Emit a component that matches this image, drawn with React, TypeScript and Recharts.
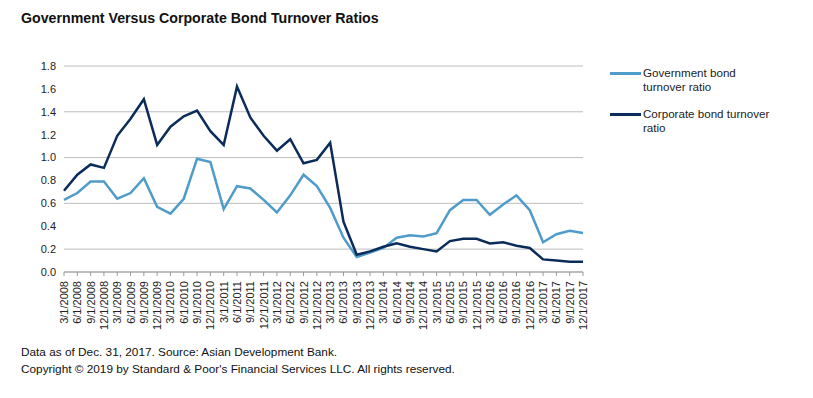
import React from 'react';
import { LineChart, Line, XAxis, YAxis, CartesianGrid } from 'recharts';

const dates = [
  '3/1/2008', '6/1/2008', '9/1/2008', '12/1/2008',
  '3/1/2009', '6/1/2009', '9/1/2009', '12/1/2009',
  '3/1/2010', '6/1/2010', '9/1/2010', '12/1/2010',
  '3/1/2011', '6/1/2011', '9/1/2011', '12/1/2011',
  '3/1/2012', '6/1/2012', '9/1/2012', '12/1/2012',
  '3/1/2013', '6/1/2013', '9/1/2013', '12/1/2013',
  '3/1/2014', '6/1/2014', '9/1/2014', '12/1/2014',
  '3/1/2015', '6/1/2015', '9/1/2015', '12/1/2015',
  '3/1/2016', '6/1/2016', '9/1/2016', '12/1/2016',
  '3/1/2017', '6/1/2017', '9/1/2017', '12/1/2017',
];

const govRatio = [
  0.63, 0.69, 0.79, 0.79, 0.64, 0.69, 0.82, 0.57,
  0.51, 0.64, 0.99, 0.96, 0.55, 0.75, 0.73, 0.63,
  0.52, 0.67, 0.85, 0.75, 0.56, 0.30, 0.13, 0.17,
  0.21, 0.30, 0.32, 0.31, 0.34, 0.54, 0.63, 0.63,
  0.50, 0.59, 0.67, 0.54, 0.26, 0.33, 0.36, 0.34,
];

const corpRatio = [
  0.71, 0.85, 0.94, 0.91, 1.19, 1.34, 1.51, 1.11,
  1.27, 1.36, 1.41, 1.23, 1.11, 1.62, 1.35, 1.19,
  1.06, 1.16, 0.95, 0.98, 1.13, 0.44, 0.15, 0.18,
  0.22, 0.25, 0.22, 0.20, 0.18, 0.27, 0.29, 0.29,
  0.25, 0.26, 0.23, 0.21, 0.11, 0.10, 0.09, 0.09,
];

const yTicks = [0, 0.2, 0.4, 0.6, 0.8, 1.0, 1.2, 1.4, 1.6, 1.8];

const series = [
  { key: 'gov', name: ['Government bond', 'turnover ratio'], color: '#4f9bc9' },
  { key: 'corp', name: ['Corporate bond turnover', 'ratio'], color: '#0b2c5a' },
];

const data = dates.map((d, i) => ({ date: d, gov: govRatio[i], corp: corpRatio[i] }));

const font = '"Liberation Sans", Arial, sans-serif';

function DateTick(props: any) {
  const { x, y, payload } = props;
  return (
    <g transform={`translate(${x},${y + 3})`}>
      <text
        transform="rotate(-90)"
        textAnchor="end"
        dy={4}
        fontSize={11}
        fill="#222"
        fontFamily={font}
      >
        {payload.value}
      </text>
    </g>
  );
}

export default function App() {
  return (
    <div style={{ position: 'absolute', left: 0, top: 0, width: 813, height: 398, background: '#fff', fontFamily: font }}>
      <div style={{ position: 'absolute', left: 21, top: 10, fontSize: 14.2, fontWeight: 'bold', color: '#111' }}>
        Government Versus Corporate Bond Turnover Ratios
      </div>
      <LineChart
        width={813}
        height={398}
        data={data}
        margin={{ top: 66, right: 230, left: 34, bottom: 66 }}
      >
        <CartesianGrid vertical={false} stroke="#bdbdbd" strokeWidth={1} />
        <XAxis
          dataKey="date"
          interval={0}
          height={60}
          tick={<DateTick />}
          tickSize={4}
          stroke="#9a9a9a"
          tickLine={{ stroke: '#9a9a9a' }}
          padding={{ left: 0, right: 0 }}
        />
        <YAxis
          width={30}
          domain={[0, 1.8]}
          ticks={yTicks}
          tickFormatter={(v: number) => v.toFixed(1)}
          axisLine={false}
          tickLine={false}
          tick={{ fontSize: 11, fill: '#222', fontFamily: font }}
        />
        {series.map((s) => (
          <Line
            key={s.key}
            type="linear"
            dataKey={s.key}
            stroke={s.color}
            strokeWidth={2.5}
            dot={false}
            isAnimationActive={false}
          />
        ))}
      </LineChart>
      {series.map((s, i) => (
        <div key={s.key} style={{ position: 'absolute', left: 610, top: 66 + i * 41, display: 'flex', alignItems: 'flex-start' }}>
          <div style={{ width: 31, height: 3, background: s.color, marginTop: 6 }} />
          <div style={{ fontSize: 11.6, lineHeight: '13.5px', color: '#222', marginLeft: 2 }}>
            {s.name[0]}
            <br />
            {s.name[1]}
          </div>
        </div>
      ))}
      <div style={{ position: 'absolute', left: 21, top: 344, fontSize: 11.8, lineHeight: '17px', color: '#111' }}>
        Data as of Dec. 31, 2017. Source: Asian Development Bank.
        <br />
        Copyright © 2019 by Standard &amp; Poor's Financial Services LLC. All rights reserved.
      </div>
    </div>
  );
}
